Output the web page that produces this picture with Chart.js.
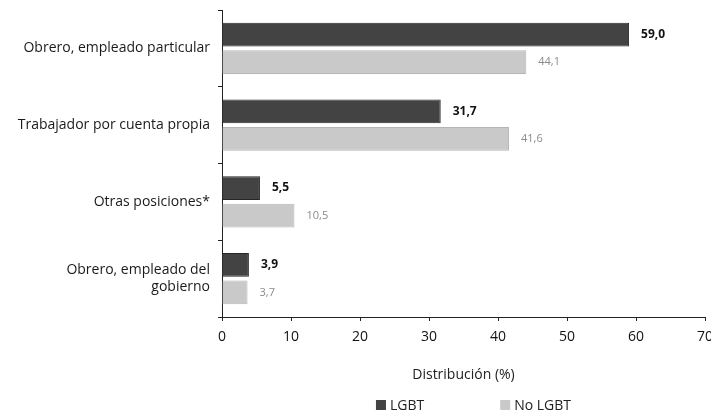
<!DOCTYPE html>
<html>
<head>
<meta charset="utf-8">
<script src="https://cdn.jsdelivr.net/npm/chart.js@4"></script>
<style>
    html, body { margin: 0; padding: 0; background: #fff; }
    #wrap { width: 711px; height: 416px; position: relative; }
</style>
</head>
<body>
<div id="wrap"><canvas id="chart"></canvas></div>
<script>
// Chart data
const categories = [
    'Obrero, empleado particular',
    'Trabajador por cuenta propia',
    'Otras posiciones*',
    ['Obrero, empleado del', 'gobierno']
];
const seriesNames = ['LGBT', 'No LGBT'];
const lgbtValues = [59.0, 31.7, 5.5, 3.9];
const noLgbtValues = [44.1, 41.6, 10.5, 3.7];
const xTicks = [0, 10, 20, 30, 40, 50, 60, 70];

const FONT = '"Open Sans", "Noto Sans", sans-serif';
const DARK = '#434343';
const LIGHT = '#c9c9c9';

// value labels after each bar + legend under the axis title
const barLabels = {
    id: 'barLabels',
    afterDatasetsDraw(chart) {
        const ctx = chart.ctx;
        ctx.save();
        ctx.textBaseline = 'middle';
        ctx.textAlign = 'left';
        chart.data.datasets.forEach((ds, i) => {
            const meta = chart.getDatasetMeta(i);
            ctx.font = i === 0 ? 'bold 12px ' + FONT : '11px ' + FONT;
            ctx.fillStyle = i === 0 ? '#111' : '#8a8a8a';
            meta.data.forEach((bar, j) => {
                const txt = ds.data[j].toFixed(1).replace('.', ',');
                ctx.fillText(txt, bar.x + 12, bar.y);
            });
        });
        ctx.restore();
    },
    afterDraw(chart) {
        const ctx = chart.ctx;
        const area = chart.chartArea;
        ctx.save();
        ctx.font = '14px ' + FONT;
        ctx.textBaseline = 'middle';
        const gap = 76;
        const items = chart.data.datasets.map(ds => ({
            label: ds.label,
            color: ds.backgroundColor,
            w: 14 + ctx.measureText(ds.label).width
        }));
        const total = items.reduce((s, it) => s + it.w, 0) + gap * (items.length - 1);
        let x = (area.left + area.right) / 2 - total / 2 + 10;
        const y = 405;
        items.forEach(it => {
            ctx.fillStyle = it.color;
            ctx.fillRect(x, y - 5, 10, 10);
            ctx.fillStyle = '#222';
            ctx.fillText(it.label, x + 14, y + 1);
            x += it.w + gap;
        });
        ctx.restore();
    }
};

new Chart(document.getElementById('chart'), {
    type: 'bar',
    data: {
        labels: categories,
        datasets: [
            {
                label: seriesNames[0],
                data: lgbtValues,
                backgroundColor: DARK,
                borderColor: '#262626',
                borderWidth: 1,
                categoryPercentage: 0.72,
                barPercentage: 0.86
            },
            {
                label: seriesNames[1],
                data: noLgbtValues,
                backgroundColor: LIGHT,
                borderColor: '#b5b5b5',
                borderWidth: 1,
                categoryPercentage: 0.72,
                barPercentage: 0.86
            }
        ]
    },
    options: {
        indexAxis: 'y',
        responsive: true,
        maintainAspectRatio: false,
        animation: false,
        layout: { padding: { top: 10, right: 6, left: 0, bottom: 33 } },
        plugins: {
            legend: { display: false },
            tooltip: { enabled: false }
        },
        scales: {
            x: {
                min: 0,
                max: 70,
                afterBuildTicks: scale => { scale.ticks = xTicks.map(v => ({ value: v })); },
                afterFit: scale => {
                    scale.height = 66;
                    scale.paddingRight = 0;  // let the "70" run off the edge like the original
                },
                border: { display: true, color: '#222', width: 1 },
                grid: { drawOnChartArea: false, drawTicks: true, tickLength: 4, color: '#222' },
                ticks: { color: '#111', font: { family: FONT, size: 14 }, padding: 8 },
                title: {
                    display: true,
                    text: 'Distribución (%)',
                    color: '#222',
                    font: { family: FONT, size: 14 },
                    padding: { top: 4, bottom: 0 }
                }
            },
            y: {
                afterFit: scale => {
                    scale.width = 222;
                    scale.paddingTop = 0;
                    scale.paddingBottom = 0;
                },
                border: { display: true, color: '#222', width: 1 },
                grid: { drawOnChartArea: false, drawTicks: true, tickLength: 4, color: '#222' },
                ticks: { color: '#1a1a1a', font: { family: FONT, size: 14 }, padding: 8 }
            }
        }
    },
    plugins: [barLabels]
});
</script>
</body>
</html>
